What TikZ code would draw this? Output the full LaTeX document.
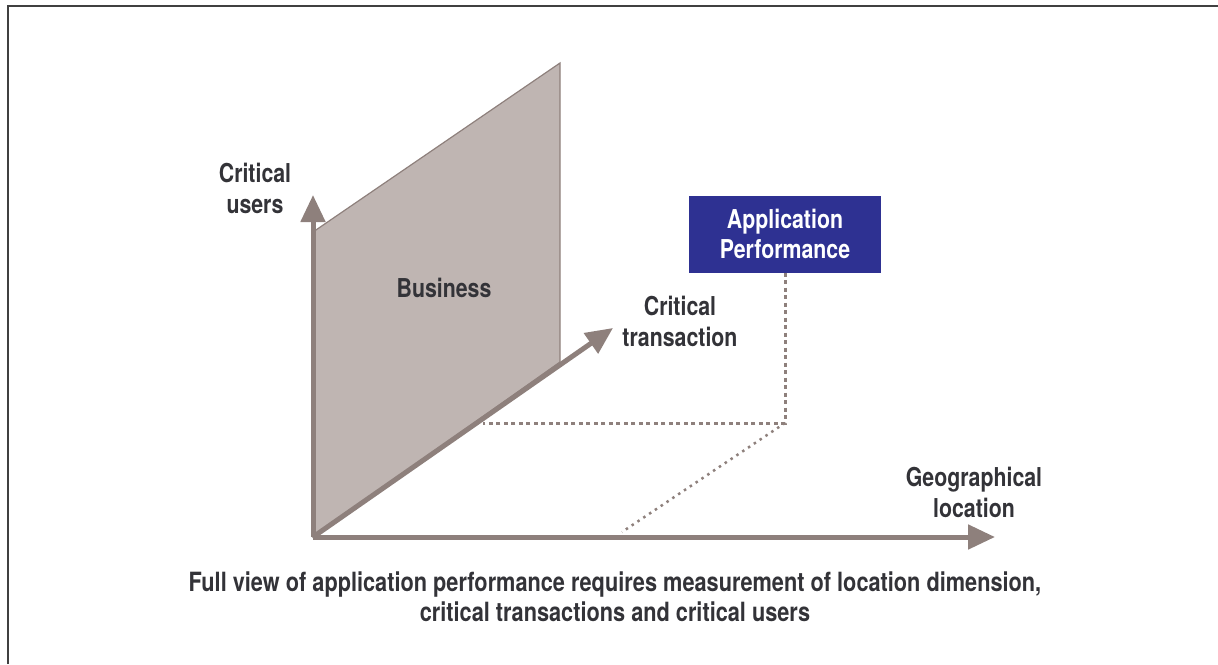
\documentclass[tikz,border=0pt]{standalone}
\usepackage{fontspec}
\setmainfont{TeX Gyre Heros}[FakeStretch=0.82]
\usetikzlibrary{arrows.meta}
\definecolor{axisgrey}{HTML}{8E807C}
\definecolor{planefill}{HTML}{BFB5B2}
\definecolor{boxblue}{HTML}{2E3192}
\definecolor{labeltext}{HTML}{333338}
\definecolor{framegrey}{HTML}{404040}
\begin{document}
\begin{tikzpicture}[x=1pt,y=-1pt,
  axis/.style={line width=5pt, draw=axisgrey, -{Triangle[length=27pt,width=24pt]}},
  guide/.style={line width=3pt, draw=axisgrey, dash pattern=on 4pt off 3.5pt},
  fineguide/.style={line width=2.5pt, draw=axisgrey, dash pattern=on 2.5pt off 4.5pt},
  lbl/.style={font=\bfseries\fontsize{26}{31}\selectfont, text=labeltext, align=center, inner sep=0pt},
  caption/.style={font=\bfseries\fontsize{26.5}{30}\selectfont, text=labeltext, align=center, inner sep=0pt},
  perfbox/.style={fill=boxblue, text=white, font=\bfseries\fontsize{26}{30}\selectfont,
    align=center, minimum width=192pt, minimum height=77pt, inner sep=0pt},
  ]
\useasboundingbox (0,0) rectangle (1218,664);

% frame lines along the top and left
\draw[line width=1.5pt, framegrey] (8,664) -- (8,6) -- (1218,6);

% axis end points
\coordinate (O) at (313,537);
\coordinate (usersTip) at (313,195);
\coordinate (transTip) at (613,328);
\coordinate (geoTip) at (995,537);

% business plane
\filldraw[fill=planefill, draw=axisgrey, line width=1.2pt]
  (O) -- (313,232) -- (560,63) -- (560,362) -- cycle;

% projection guides
\node[perfbox] (ap) at (785,234) {Application\\Performance};
\coordinate (corner) at (ap.south |- 0,423);
\coordinate (transFoot) at (483,423);
\coordinate (geoFoot) at (622,532);
\draw[guide] (ap.south) -- (corner) -- (transFoot);
\draw[fineguide] (corner) -- (geoFoot);

% axes
\draw[axis] (O) -- (usersTip);
\draw[axis] (O) -- (geoTip);
\draw[axis] (O) -- (transTip);

% labels
\node[lbl] (users) at (255,188) {Critical\\users};
\node[lbl] (business) at (444,288) {Business};
\node[lbl] (trans) at (680,321) {Critical\\transaction};
\node[lbl] (geo) at (974,492) {Geographical\\location};
\node[caption] (cap) at (615,597) {Full view of application performance requires measurement of location dimension,\\critical transactions and critical users};
\end{tikzpicture}
\end{document}
